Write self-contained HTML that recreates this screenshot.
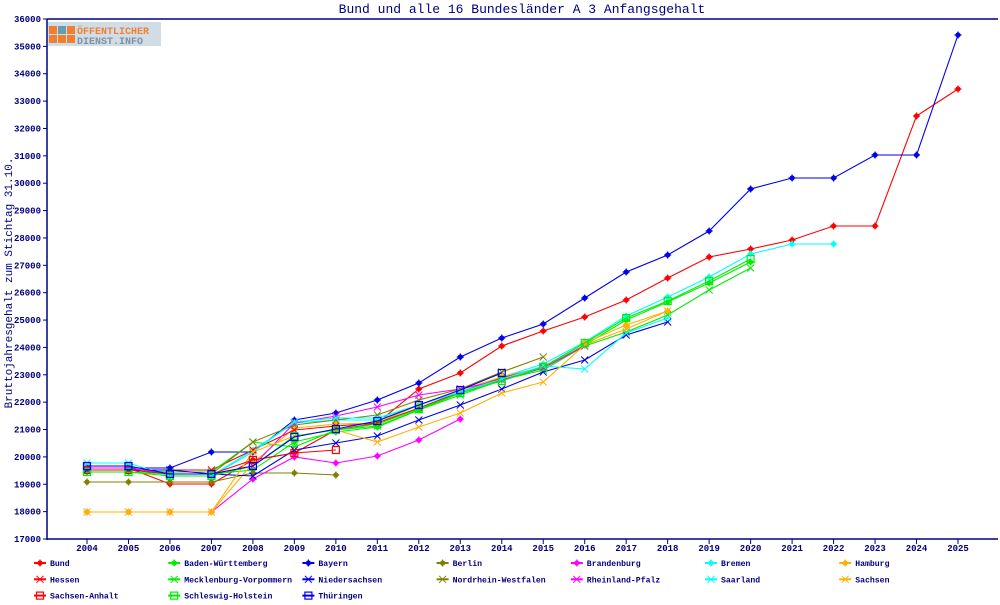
<!DOCTYPE html>
<html><head><meta charset="utf-8"><style>
body{margin:0;background:#fff;}
svg text{font-family:"Liberation Mono","DejaVu Sans Mono",monospace;fill:#000080;}
</style></head><body>
<svg id="s" width="1000" height="600" xmlns="http://www.w3.org/2000/svg">
<rect width="1000" height="600" fill="#fff"/>
<text x="522" y="13" font-size="13" text-anchor="middle">Bund und alle 16 Bundesländer A 3 Anfangsgehalt</text>
<text transform="translate(12,283) rotate(-90)" font-size="11" text-anchor="middle">Bruttojahresgehalt zum Stichtag 31.10.</text>
<g>
<rect x="48" y="22" width="113" height="24" fill="#d0dde6"/>
<rect x="49" y="26" width="8" height="8" fill="#f08030"/><rect x="58" y="26" width="8" height="8" fill="#60a0b0"/><rect x="67" y="26" width="8" height="8" fill="#f08030"/>
<rect x="49" y="35" width="8" height="8" fill="#f08030"/><rect x="58" y="35" width="8" height="8" fill="#f08030"/><rect x="67" y="35" width="8" height="8" fill="#f08030"/>
<text x="77" y="34" font-size="10" font-weight="bold" style="fill:#f08030">ÖFFENTLICHER</text>
<text x="77" y="44" font-size="10" font-weight="bold" style="fill:#8090a0">DIENST.INFO</text>
</g>
<g id="ax"></g><g id="ser"></g><g id="leg"></g>
</svg>
<script>
const NS="http://www.w3.org/2000/svg";
function el(p,t,a,txt){const e=document.createElementNS(NS,t);for(const k in a)e.setAttribute(k,a[k]);if(txt!==undefined)e.textContent=txt;p.appendChild(e);return e;}
const ax=document.getElementById('ax'),ser=document.getElementById('ser'),leg=document.getElementById('leg');
const X=y=>87+(y-2004)*41.476, Y=v=>539-(v-17000)*520/19000;
el(ax,'line',{x1:47,y1:19,x2:998,y2:19,stroke:'#000080','stroke-width':1.5});
el(ax,'line',{x1:47,y1:19,x2:47,y2:540,stroke:'#000080','stroke-width':1.5});
el(ax,'line',{x1:47,y1:539,x2:998,y2:539,stroke:'#000080','stroke-width':1.5});
for(let v=17000;v<=36000;v+=1000){const y=Y(v);el(ax,'line',{x1:43,y1:y,x2:47,y2:y,stroke:'#000080'});el(ax,'text',{x:41,y:y+3,'font-size':9,'text-anchor':'end','font-weight':'bold'},v);}
for(let yr=2004;yr<=2025;yr++){const x=X(yr);el(ax,'line',{x1:x,y1:539,x2:x,y2:544,stroke:'#000080'});el(ax,'text',{x:x,y:551,'font-size':9,'text-anchor':'middle','font-weight':'bold'},yr);}
const R='#ff0000',G='#00ee00',B='#0000ee',O='#808000',M='#ff00ff',C='#00ffff',OR='#ffb000';
const S=[
['Bund',R,'star',[468,468,484,484,460,453,430,423,389,373,346,331,317,300,278,257,249,240,226,226,116,89]],
['Baden-Württemberg',G,'star',[472,472,474,474,470,442,432,427,410,393,380,368,345,320,302,283,262]],
['Bayern',B,'star',[468,468,468,452,452,420,413,400,383,357,338,324,298,272,255,231,189,178,178,155,155,35]],
['Berlin',O,'star',[482,482,482,482,473,473,475]],
['Brandenburg',M,'star',[512,512,512,512,479,457,463,456,440,419]],
['Bremen',C,'star',[466,466,476,476,450,423,420,420,405,392,377,364,342,316,297,277,254,244,244]],
['Hamburg',OR,'star',[512,512,512,512,463,428,424,423,405,390,377,367,343,325,311]],
['Hessen',R,'x',[470,470,470,470,450,430,426,423,408,392,378,367]],
['Mecklenburg-Vorpommern',G,'x',[470,470,472,472,442,447,430,426,410,395,380,370,346,332,315,290,268]],
['Niedersachsen',B,'x',[470,470,470,474,476,450,443,436,420,405,389,372,360,335,322]],
['Nordrhein-Westfalen',O,'x',[466,466,474,474,442,425,420,415,400,389,372,357]],
['Rheinland-Pfalz',M,'x',[468,468,474,474,466,423,416,407,395,389,380,368,346]],
['Saarland',C,'x',[463,463,476,476,452,422,418,418,405,392,379,366,369,333,318]],
['Sachsen',OR,'x',[512,512,512,512,452,436,430,442,427,413,393,382,345,329,311]],
['Sachsen-Anhalt',R,'sq',[470,470,474,474,460,453,450]],
['Schleswig-Holstein',G,'sq',[472,472,476,476,466,436,430,424,409,393,381,367,343,318,301,281,259]],
['Thüringen',B,'sq',[466,466,474,474,466,437,429,421,405,390,373]]
];
function mark(p,t,x,y,c){
 if(t==='star'){el(p,'circle',{cx:x,cy:y,r:2.6,fill:c});el(p,'path',{d:`M${x-3.5} ${y}H${x+3.5}M${x} ${y-3.5}V${y+3.5}`,stroke:c,'stroke-width':1.2});}
 else if(t==='x'){el(p,'path',{d:`M${x-3.5} ${y-3.5}L${x+3.5} ${y+3.5}M${x-3.5} ${y+3.5}L${x+3.5} ${y-3.5}`,stroke:c,'stroke-width':1});}
 else el(p,'rect',{x:x-3.5,y:y-3.5,width:7,height:7,fill:'none',stroke:c,'stroke-width':1.2});
}
S.forEach(([n,c,t,d])=>{
 const pts=d.map((y,i)=>[X(2004+i),y]);
 el(ser,'polyline',{points:pts.map(p=>p.join(',')).join(' '),fill:'none',stroke:c,'stroke-width':1.1});
 pts.forEach(p=>mark(ser,t,p[0],p[1],c));
});
S.forEach(([n,c,t],i)=>{
 const col=i%7,row=Math.floor(i/7);const x=40+col*134.2,y=563+row*16.3;
 el(leg,'line',{x1:x-6,y1:y,x2:x+6,y2:y,stroke:c,'stroke-width':2});
 mark(leg,t,x,y,c);
 el(leg,'text',{x:x+10,y:y+3,'font-size':8.5,'font-weight':'bold',textLength:n.length*4.9,lengthAdjust:'spacingAndGlyphs'},n);
});
</script>
</body></html>
